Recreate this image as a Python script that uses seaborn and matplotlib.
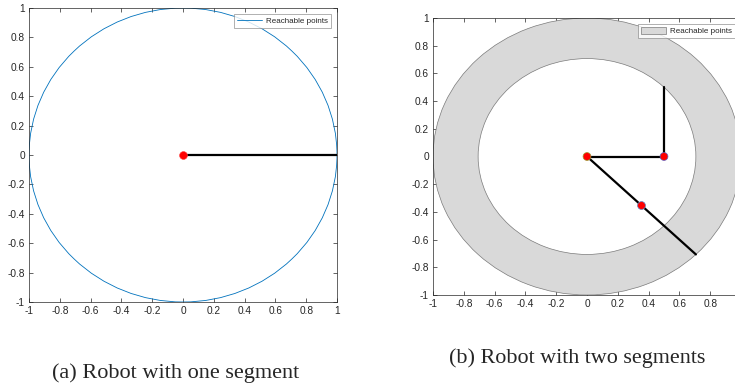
import matplotlib
matplotlib.use("Agg")
import matplotlib.pyplot as plt
import pandas as pd
import seaborn as sns
from matplotlib.patches import Circle, Annulus

# ---- data ----
tick_vals = [-1, -0.8, -0.6, -0.4, -0.2, 0, 0.2, 0.4, 0.6, 0.8, 1]
tick_labels = ["-1", "-0.8", "-0.6", "-0.4", "-0.2", "0", "0.2", "0.4", "0.6", "0.8", "1"]
# right panel runs past the page edge, so its last x label is not visible
tick_labels_b_x = ["-1", "-0.8", "-0.6", "-0.4", "-0.2", "0", "0.2", "0.4", "0.6", "0.8", ""]

# (a) one segment
reach_radius_a = 1.0
arm_a_x = [0.0, 1.0]
arm_a_y = [0.0, 0.0]
joints_a_x = [0.0]
joints_a_y = [0.0]

# (b) two segments
reach_outer_b = 1.0
reach_inner_b = 0.707
arm_b1_x = [0.0, 0.5, 0.5]
arm_b1_y = [0.0, 0.0, 0.5]
arm_b2_x = [0.0, 0.354, 0.707]
arm_b2_y = [0.0, -0.354, -0.707]
joints_b_x = [0.0, 0.5, 0.354]
joints_b_y = [0.0, 0.0, -0.354]

captions = ["(a) Robot with one segment", "(b) Robot with two segments"]

sns.set_theme(style="white")
plt.rcParams["font.family"] = ["Liberation Sans", "DejaVu Sans"]
axis_col = "#262626"


def style_axes(ax, xlabels):
    ax.set_xlim(-1, 1)
    ax.set_ylim(-1, 1)
    ax.set_xticks(tick_vals)
    ax.set_yticks(tick_vals)
    ax.set_xticklabels(xlabels)
    ax.set_yticklabels(tick_labels)
    ax.tick_params(direction="in", length=3, width=0.5, colors=axis_col,
                   labelsize=7.3, top=True, right=True, bottom=True, left=True,
                   pad=3)
    for s in ax.spines.values():
        s.set_color(axis_col)
        s.set_linewidth(0.5)
    ax.set_xlabel("")
    ax.set_ylabel("")
    ax.grid(False)


fig = plt.figure(figsize=(7.35, 3.85), dpi=100)
ax_a = fig.add_axes([29 / 735, 1 - 302 / 385, 308 / 735, 294 / 385])
ax_b = fig.add_axes([433 / 735, 1 - 295 / 385, 308 / 735, 277 / 385])

# ---- panel (a) ----
ax_a.add_patch(Circle((0, 0), reach_radius_a, fill=False, edgecolor="#0072BD",
                      linewidth=0.6))
df_a = pd.DataFrame({"x": arm_a_x, "y": arm_a_y})
sns.lineplot(data=df_a, x="x", y="y", sort=False, estimator=None,
             color="black", linewidth=1.6, ax=ax_a, zorder=3)
sns.scatterplot(x=joints_a_x, y=joints_a_y, color="red", s=32,
                edgecolor="#ff4040", linewidth=0.4, ax=ax_a, zorder=4)
style_axes(ax_a, tick_labels)
ax_a.legend(handles=[plt.Line2D([0], [0], color="#0072BD", linewidth=0.6,
                                label="Reachable points")],
            loc="upper right", fontsize=5.8, frameon=True, fancybox=False,
            edgecolor="#8c8c8c", borderaxespad=0.8, handlelength=3.1,
            borderpad=0.35, handletextpad=0.5).get_frame().set_linewidth(0.6)

# ---- panel (b) ----
ring = Annulus((0, 0), reach_outer_b, reach_outer_b - reach_inner_b,
               facecolor="#d9d9d9", edgecolor="#7a7a7a", linewidth=0.5,
               label="Reachable points")
ax_b.add_patch(ring)
for seg_x, seg_y in [(arm_b1_x, arm_b1_y), (arm_b2_x, arm_b2_y)]:
    df_b = pd.DataFrame({"x": seg_x, "y": seg_y})
    sns.lineplot(data=df_b, x="x", y="y", sort=False, estimator=None,
                 color="black", linewidth=1.6, ax=ax_b, zorder=3)
sns.scatterplot(x=joints_b_x, y=joints_b_y, color="red", s=32,
                edgecolor=["#9a9a30", "#6060c0", "#6080c0"],
                linewidth=0.5, ax=ax_b, zorder=4)
style_axes(ax_b, tick_labels_b_x)
ax_b.legend(handles=[ring], loc="upper right", fontsize=5.8, frameon=True,
            fancybox=False, edgecolor="#8c8c8c", borderaxespad=0.8,
            handlelength=3.1, handleheight=0.9, borderpad=0.35,
            handletextpad=0.5).get_frame().set_linewidth(0.6)

# ---- captions ----
fig.text(176 / 735, 1 - 373 / 385, captions[0], ha="center", va="center",
         fontsize=16, family=["Liberation Serif", "DejaVu Serif"])
fig.text(577 / 735, 1 - 358 / 385, captions[1], ha="center", va="center",
         fontsize=15.9, family=["Liberation Serif", "DejaVu Serif"])

fig.savefig("out.png", dpi=100)
